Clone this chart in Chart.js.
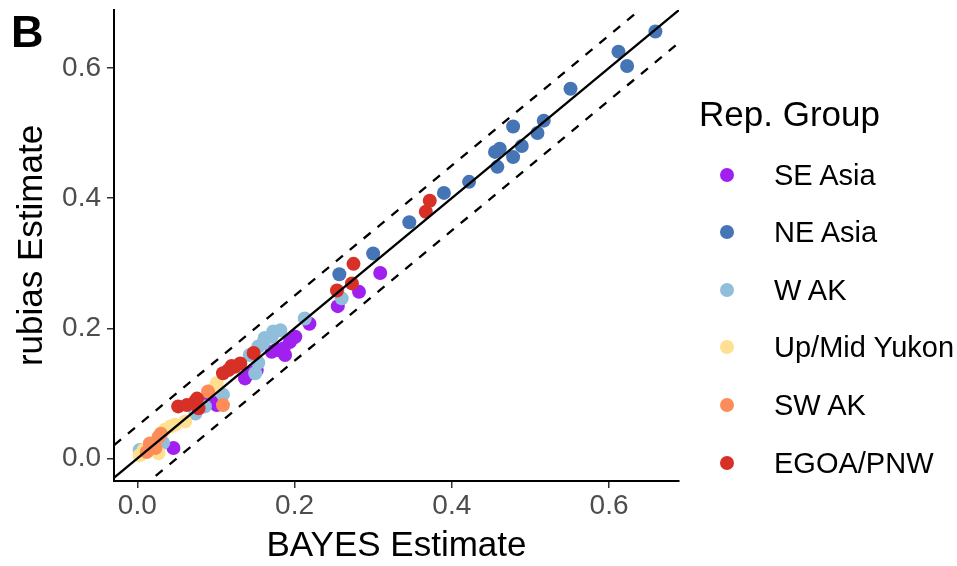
<!DOCTYPE html>
<html>
<head>
<meta charset="utf-8">
<script src="https://cdn.jsdelivr.net/npm/chart.js@4.4.1/dist/chart.umd.min.js"></script>
<style>
  html, body { margin:0; padding:0; background:#fff; }
  #wrap { position:relative; width:957px; height:566px; font-family:"Liberation Sans", Arial, sans-serif; }
  #c { position:absolute; left:0; top:0; }
  #tag { position:absolute; left:11px; top:9px; font-size:45px; font-weight:bold; line-height:1; color:#000; }
  #legend { position:absolute; left:0; top:0; }
  .ltitle { position:absolute; left:699px; top:94px; font-size:35px; line-height:40px; color:#000; white-space:nowrap; }
  .litem { position:absolute; left:720px; height:30px; white-space:nowrap; }
  .ldot { position:absolute; left:0px; top:8px; width:14px; height:14px; border-radius:50%; }
  .ltext { position:absolute; left:54px; top:0; font-size:29px; line-height:30px; color:#000; }
</style>
</head>
<body>
<div id="wrap">
  <canvas id="c" width="957" height="566"></canvas>
  <div id="tag">B</div>
  <div id="legend"></div>
</div>
<script>
// ---- data ----
const groups = ["SE Asia", "NE Asia", "W AK", "Up/Mid Yukon", "SW AK", "EGOA/PNW"];
const groupColors = ["#A020F0", "#4575B4", "#91BFDB", "#FEE090", "#FC8D59", "#D73027"];

const seAsiaX = [0.046, 0.090, 0.095, 0.101, 0.137, 0.143, 0.152, 0.171, 0.177, 0.182, 0.186, 0.188, 0.194, 0.198, 0.201, 0.219, 0.255, 0.282, 0.309];
const seAsiaY = [0.016, 0.090, 0.087, 0.082, 0.123, 0.131, 0.136, 0.164, 0.167, 0.166, 0.169, 0.159, 0.179, 0.185, 0.187, 0.207, 0.234, 0.256, 0.285];

const neAsiaX = [0.257, 0.300, 0.346, 0.390, 0.422, 0.455, 0.458, 0.461, 0.478, 0.478, 0.489, 0.509, 0.517, 0.551, 0.612, 0.623, 0.659];
const neAsiaY = [0.283, 0.315, 0.363, 0.408, 0.425, 0.471, 0.448, 0.476, 0.510, 0.463, 0.480, 0.500, 0.519, 0.568, 0.625, 0.603, 0.656];

const wAkX = [0.003, 0.033, 0.074, 0.086, 0.109, 0.143, 0.150, 0.154, 0.154, 0.160, 0.162, 0.171, 0.173, 0.182, 0.213, 0.260];
const wAkY = [0.013, 0.024, 0.069, 0.080, 0.098, 0.159, 0.131, 0.147, 0.172, 0.177, 0.185, 0.187, 0.195, 0.197, 0.215, 0.246];

const yukonX = [0.003, 0.008, 0.027, 0.035, 0.042, 0.048, 0.061, 0.095, 0.101];
const yukonY = [0.005, 0.013, 0.008, 0.044, 0.049, 0.052, 0.057, 0.105, 0.116];

const swAkX = [0.012, 0.016, 0.023, 0.027, 0.030, 0.090, 0.109];
const swAkY = [0.010, 0.023, 0.016, 0.033, 0.038, 0.103, 0.082];

const egoaX = [0.052, 0.063, 0.073, 0.078, 0.076, 0.109, 0.116, 0.120, 0.124, 0.131, 0.148, 0.254, 0.273, 0.275, 0.367, 0.372];
const egoaY = [0.080, 0.082, 0.087, 0.077, 0.092, 0.131, 0.136, 0.142, 0.141, 0.146, 0.162, 0.258, 0.269, 0.299, 0.379, 0.396];

const groupX = [seAsiaX, neAsiaX, wAkX, yukonX, swAkX, egoaX];
const groupY = [seAsiaY, neAsiaY, wAkY, yukonY, swAkY, egoaY];

const tickValues = [0.0, 0.2, 0.4, 0.6];
const refOffsets = [0, 0.05, -0.05];   // y = x, y = x ± 0.05
const xRange = [-0.0296, 0.689];
const yRange = [-0.0346, 0.689];
const xTitle = "BAYES Estimate";
const yTitle = "rubias Estimate";
const legendTitle = "Rep. Group";

// ---- chart ----
const FONT = '"Liberation Sans", Arial, sans-serif';
const datasets = [];
refOffsets.forEach((off) => {
  datasets.push({
    type: 'line',
    data: [{x: -0.1, y: -0.1 + off}, {x: 0.8, y: 0.8 + off}],
    borderColor: '#000',
    borderWidth: 2.3,
    borderDash: off === 0 ? [] : [9, 9],
    pointRadius: 0,
    fill: false,
    clip: 0,
    order: 0
  });
});
groups.forEach((g, i) => {
  datasets.push({
    type: 'scatter',
    label: g,
    data: groupX[i].map((x, j) => ({x: x, y: groupY[i][j]})),
    backgroundColor: groupColors[i],
    borderWidth: 0,
    pointRadius: 7,
    pointHoverRadius: 7,
    order: groups.length - i
  });
});

const axisCommon = {
  type: 'linear',
  afterBuildTicks: s => { s.ticks = tickValues.map(v => ({value: v})); },
  ticks: { callback: v => Number(v).toFixed(1), color: '#4D4D4D', font: {family: FONT, size: 28}, autoSkip: false, maxRotation: 0 },
  grid: { drawOnChartArea: false, tickLength: 7, color: '#333333', lineWidth: 1.5 },
  border: { color: '#000', width: 2 }
};

new Chart(document.getElementById('c'), {
  type: 'scatter',
  data: { datasets },
  options: {
    responsive: false,
    animation: false,
    events: [],
    layout: { padding: { top: 10, right: 278, left: 0, bottom: 0 } },
    plugins: { legend: { display: false }, tooltip: { enabled: false } },
    scales: {
      x: Object.assign({}, axisCommon, {
        position: 'bottom',
        min: xRange[0], max: xRange[1],
        afterFit: s => { s.height = 85; s.paddingLeft = 0; s.paddingRight = 0; },
        ticks: Object.assign({}, axisCommon.ticks, { padding: 1 }),
        title: { display: true, text: xTitle, color: '#000', font: {family: FONT, size: 35, lineHeight: 1}, padding: {bottom: 2, top: 0} }
      }),
      y: Object.assign({}, axisCommon, {
        position: 'left',
        min: yRange[0], max: yRange[1],
        afterFit: s => { s.width = 114; s.paddingTop = 0; s.paddingBottom = 0; },
        ticks: Object.assign({}, axisCommon.ticks, { padding: 6 }),
        title: { display: true, text: yTitle, color: '#000', font: {family: FONT, size: 35, lineHeight: 1}, padding: {top: 15, bottom: 0} }
      })
    }
  }
});

// ---- legend (HTML text) ----
const leg = document.getElementById('legend');
const t = document.createElement('div');
t.className = 'ltitle'; t.textContent = legendTitle; leg.appendChild(t);
const itemCenters = [175, 232, 290, 347, 405, 463];
groups.forEach((g, i) => {
  const it = document.createElement('div');
  it.className = 'litem';
  it.style.top = (itemCenters[i] - 15) + 'px';
  const d = document.createElement('div'); d.className = 'ldot'; d.style.background = groupColors[i];
  const s = document.createElement('div'); s.className = 'ltext'; s.textContent = g;
  it.appendChild(d); it.appendChild(s); leg.appendChild(it);
});
</script>
</body>
</html>
